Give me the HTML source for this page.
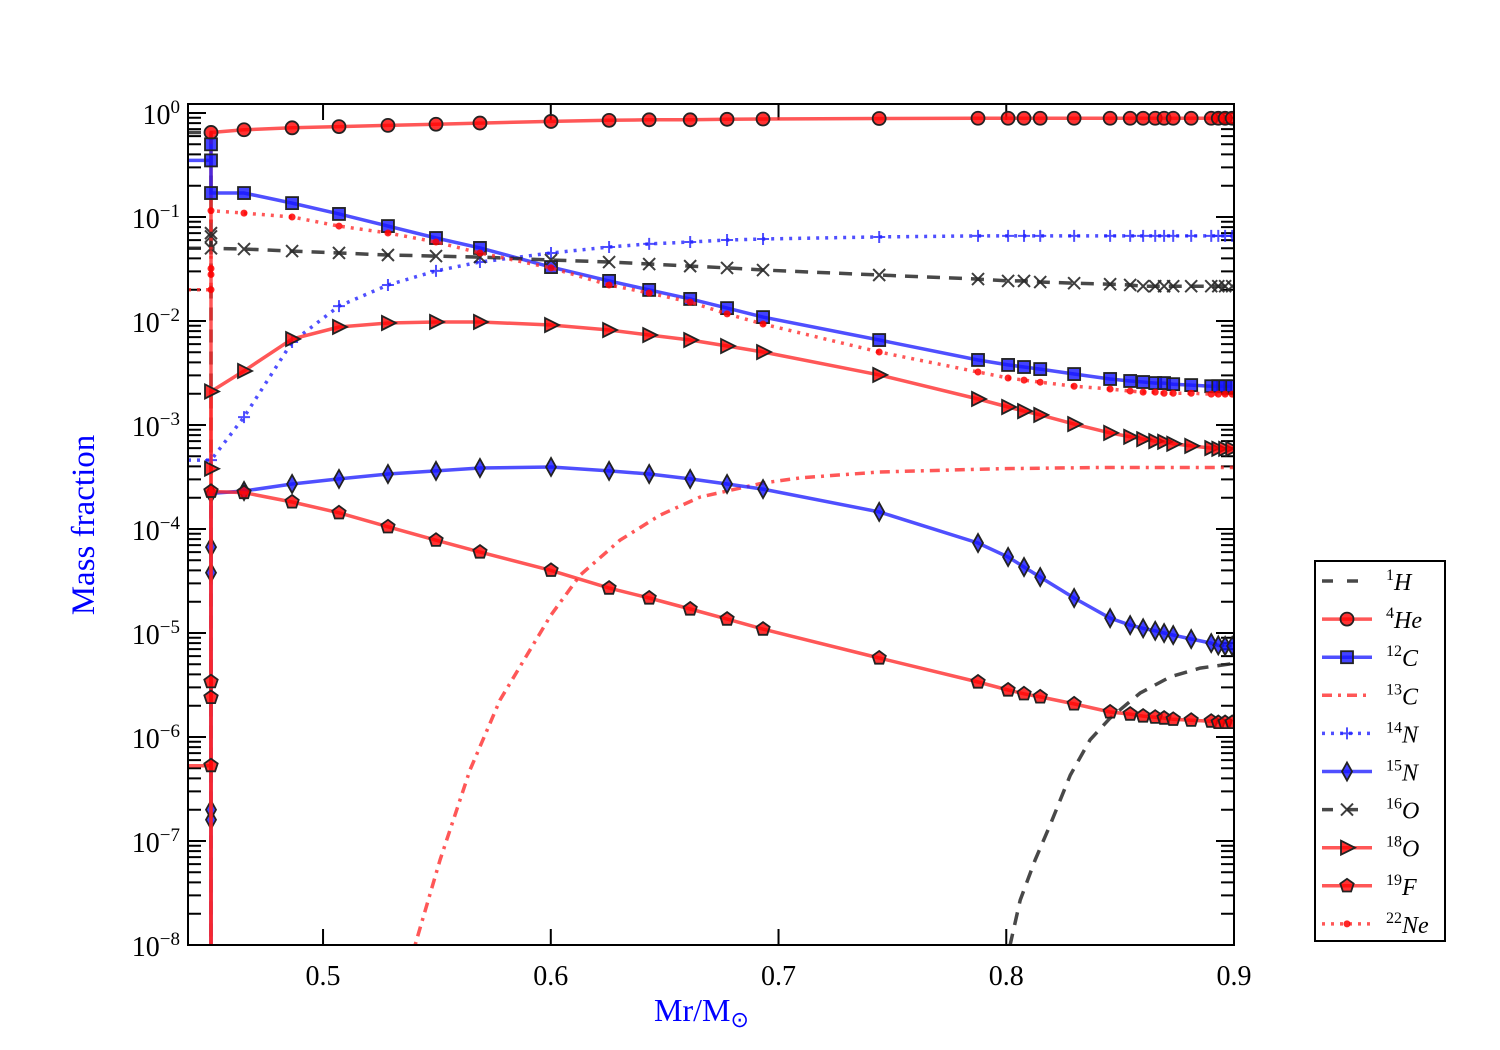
<!DOCTYPE html>
<html><head><meta charset="utf-8"><style>
html,body{margin:0;padding:0;background:#fff;width:1500px;height:1050px;overflow:hidden;}
svg{display:block;font-family:"Liberation Serif",serif;}
</style></head><body>
<svg id="chart" width="1500" height="1050" viewBox="0 0 1500 1050" xmlns="http://www.w3.org/2000/svg">
<defs><clipPath id="pc"><rect x="188" y="104" width="1046" height="841"/></clipPath></defs>
<rect x="0" y="0" width="1500" height="1050" fill="#fff"/>
<g id="ticks"></g>
<g id="series" clip-path="url(#pc)"></g>
<rect x="188" y="104" width="1046" height="841" fill="none" stroke="#000" stroke-width="2"/>
<g id="labels"></g>
<text x="94" y="525" transform="rotate(-90 94 525)" text-anchor="middle" font-size="33" fill="#0000ff">Mass fraction</text>
<text x="654" y="1021" font-size="32" fill="#0000ff">Mr/M<tspan font-size="22" dy="6">⊙</tspan></text>
<rect x="1315" y="561" width="130" height="380" fill="#fff" stroke="#000" stroke-width="2"/>
<g id="legend"></g>
</svg>
<script>
const grid = [0.4653,0.4864,0.5070,0.5285,0.5496,0.5689,0.6001,0.6256,0.6432,0.6612,0.6774,0.6932,0.7442,0.7876,0.8008,0.8078,0.8149,0.8298,0.8456,0.8544,0.8601,0.8654,0.8693,0.8733,0.8812,0.8900,0.8931,0.8961,0.8992];
const xEdge = 0.4508;
const he4 = [0.69,0.72,0.74,0.76,0.78,0.80,0.83,0.85,0.86,0.86,0.87,0.875,0.885,0.89,0.89,0.89,0.89,0.89,0.89,0.89,0.89,0.89,0.89,0.89,0.89,0.89,0.89,0.89,0.89];
const c12 = [0.170,0.136,0.107,0.0818,0.0628,0.0504,0.0330,0.0243,0.0199,0.0163,0.0133,0.0109,0.00656,0.00422,0.00378,0.00361,0.00345,0.00309,0.00277,0.00265,0.00259,0.00253,0.00253,0.00247,0.00242,0.00236,0.00236,0.00236,0.00236];
const ne22 = [0.109,0.100,0.0818,0.0702,0.0575,0.0451,0.0324,0.0222,0.0186,0.0152,0.0117,0.00935,0.00503,0.00323,0.00283,0.00270,0.00258,0.00236,0.00222,0.00212,0.00207,0.00207,0.00202,0.00202,0.00202,0.00198,0.00198,0.00198,0.00198];
const n14 = [0.00119,0.00628,0.0139,0.0222,0.0303,0.0369,0.0451,0.0515,0.0551,0.0575,0.0601,0.0615,0.0643,0.0658,0.0658,0.0658,0.0658,0.0658,0.0658,0.0658,0.0658,0.0658,0.0658,0.0658,0.0658,0.0658,0.0658,0.0658,0.0658];
const o16 = [0.0492,0.047,0.0451,0.0431,0.0421,0.0412,0.0386,0.0369,0.0353,0.0337,0.0324,0.0309,0.0277,0.0253,0.0243,0.0243,0.0237,0.0231,0.0226,0.0222,0.0216,0.0216,0.0216,0.0216,0.0216,0.0216,0.0216,0.0216,0.0216];
const o18 = [0.00331,0.00671,0.00876,0.00957,0.00979,0.00979,0.00915,0.00819,0.00733,0.00656,0.00575,0.00503,0.00303,0.00178,0.00149,0.00136,0.00125,0.00102,0.00084,0.00077,0.00073,0.00070,0.00069,0.00066,0.00063,0.00060,0.00059,0.00059,0.00059];
const n15 = [2.32e-4,2.71e-4,3.03e-4,3.38e-4,3.62e-4,3.86e-4,3.95e-4,3.62e-4,3.38e-4,3.03e-4,2.71e-4,2.42e-4,1.46e-4,7.33e-5,5.38e-5,4.31e-5,3.45e-5,2.17e-5,1.39e-5,1.19e-5,1.11e-5,1.05e-5,9.99e-6,9.55e-6,8.75e-6,8.0e-6,7.6e-6,7.5e-6,7.5e-6];
const f19 = [2.24e-4,1.82e-4,1.43e-4,1.05e-4,7.8e-5,6.0e-5,4.0e-5,2.7e-5,2.17e-5,1.7e-5,1.36e-5,1.09e-5,5.75e-6,3.38e-6,2.83e-6,2.6e-6,2.43e-6,2.08e-6,1.74e-6,1.66e-6,1.59e-6,1.55e-6,1.52e-6,1.48e-6,1.45e-6,1.42e-6,1.38e-6,1.38e-6,1.38e-6];
const c13x = [0.535,0.5404,0.5514,0.5645,0.5777,0.5909,0.6001,0.6129,0.6304,0.6480,0.6656,0.6932,0.7095,0.7442,0.7973,0.8412,0.9];
const c13y = [2e-9,1e-8,6.6e-8,4.8e-7,2.27e-6,6.9e-6,1.49e-5,3.6e-5,7.8e-5,1.36e-4,2.03e-4,2.77e-4,3.1e-4,3.53e-4,3.8e-4,3.9e-4,3.9e-4];
const h1x = [0.4407,0.4508,0.4508,0.800,0.8017,0.8061,0.8127,0.8193,0.8281,0.8368,0.8456,0.8588,0.8720,0.8851,0.9];
const h1y = [0.65,0.65,1e-12,1e-12,1e-8,2.7e-8,6.6e-8,1.43e-7,4.3e-7,9.4e-7,1.52e-6,2.65e-6,3.78e-6,4.6e-6,5.1e-6];
const xTicks = [0.5,0.6,0.7,0.8,0.9];
const xTickLabels = ["0.5","0.6","0.7","0.8","0.9"];
const yExps = [0,-1,-2,-3,-4,-5,-6,-7,-8];

const X0=188,X1=1234,Y0=104,Y1=945;
const xmin=0.4407,xmax=0.9;
function sx(v){return X0+(v-xmin)/(xmax-xmin)*(X1-X0);}
function sy(v){return 945-(Math.log10(v)+8)*104;}
function cy(y){return Math.max(Y0-10,Math.min(Y1+10,y));}
const NS="http://www.w3.org/2000/svg";
function mk(tag,attrs,parent){const e=document.createElementNS(NS,tag);for(const k in attrs)e.setAttribute(k,attrs[k]);parent.appendChild(e);return e;}
const S=document.getElementById('series'),T=document.getElementById('ticks'),L=document.getElementById('labels'),G=document.getElementById('legend');

const RED='rgba(255,40,40,0.78)',BLUE='rgba(30,30,255,0.78)',GRAY='rgba(40,40,40,0.85)';
const spec = [
 {name:'h1',label:'1',el:'H',color:GRAY,dash:'13,9',marker:null},
 {name:'he4',label:'4',el:'He',color:RED,dash:null,marker:'circle',left:1e-12,at0:[1e-12,0.65],vals:he4},
 {name:'c12',label:'12',el:'C',color:BLUE,dash:null,marker:'square',left:0.35,at0:[0.35,0.5,0.17],vals:c12},
 {name:'c13',label:'13',el:'C',color:RED,dash:'10,6,3,6',marker:null},
 {name:'n14',label:'14',el:'N',color:BLUE,dash:'3,6',marker:'plus',left:4.6e-4,at0:[4.6e-4],vals:n14},
 {name:'n15',label:'15',el:'N',color:BLUE,dash:null,marker:'diamond',left:1e-12,at0:[1e-12,1.6e-7,2e-7,3.8e-5,6.7e-5,2.2e-4],vals:n15},
 {name:'o16',label:'16',el:'O',color:GRAY,dash:'13,9',marker:'x',left:0.05,at0:[0.07,0.065,0.05],vals:o16},
 {name:'o18',label:'18',el:'O',color:RED,dash:null,marker:'tri',left:1e-12,at0:[1e-12,3.8e-4,2.1e-3],vals:o18},
 {name:'f19',label:'19',el:'F',color:RED,dash:null,marker:'pent',left:5.3e-7,at0:[1e-12,5.3e-7,2.4e-6,3.4e-6,2.3e-4],vals:f19},
 {name:'ne22',label:'22',el:'Ne',color:RED,dash:'3,6',marker:'dot',left:0.02,at0:[0.02,0.028,0.032,0.115],vals:ne22}
];
function fillOf(c){return c===BLUE?'rgba(20,20,255,0.8)':'rgba(255,0,0,0.8)';}
function drawMarker(type,x,y,color,parent){
  const f=fillOf(color),st='#222',sw=1.8;let e;
  if(type==='circle'){e=mk('circle',{cx:x,cy:y,r:6.5,fill:f,stroke:st,'stroke-width':sw},parent);}
  else if(type==='square'){e=mk('rect',{x:x-6,y:y-6,width:12,height:12,fill:f,stroke:st,'stroke-width':sw},parent);}
  else if(type==='diamond'){e=mk('path',{d:`M${x},${y-9}L${x+5},${y}L${x},${y+9}L${x-5},${y}Z`,fill:f,stroke:st,'stroke-width':sw},parent);}
  else if(type==='tri'){e=mk('path',{d:`M${x-6},${y-7}L${x+8},${y}L${x-6},${y+7}Z`,fill:f,stroke:st,'stroke-width':sw},parent);}
  else if(type==='pent'){let d='';for(let i=0;i<5;i++){const a=-Math.PI/2+i*2*Math.PI/5;d+=(i?'L':'M')+(x+7*Math.cos(a)).toFixed(1)+','+(y+7*Math.sin(a)).toFixed(1);}e=mk('path',{d:d+'Z',fill:f,stroke:st,'stroke-width':sw},parent);}
  else if(type==='x'){e=mk('path',{d:`M${x-6},${y-6}L${x+6},${y+6}M${x-6},${y+6}L${x+6},${y-6}`,stroke:'rgba(40,40,40,0.9)','stroke-width':2,fill:'none'},parent);}
  else if(type==='plus'){e=mk('path',{d:`M${x-6},${y}L${x+6},${y}M${x},${y-6}L${x},${y+6}`,stroke:BLUE,'stroke-width':2,fill:'none'},parent);}
  else if(type==='dot'){e=mk('circle',{cx:x,cy:y,r:3.5,fill:'rgba(255,0,0,0.85)'},parent);}
  return e;
}
function pathD(pts){return pts.map((p,i)=>(i?'L':'M')+p[0].toFixed(1)+','+cy(p[1]).toFixed(1)).join('');}

spec.forEach(s=>{
  const g=mk('g',{},S);
  
  
  let pts=[];
  if(s.name==='h1'){pts=h1x.map((x,i)=>[sx(x),sy(h1y[i])]);}
  else if(s.name==='c13'){pts=c13x.map((x,i)=>[sx(x),sy(c13y[i])]);}
  else{
    pts.push([sx(xmin),sy(s.left)]);pts.push([sx(xEdge),sy(s.left)]);
    s.at0.forEach(v=>pts.push([sx(xEdge),sy(v)]));
    grid.forEach((x,i)=>pts.push([sx(x),sy(s.vals[i])]));
  }
  const a={d:pathD(pts),fill:'none',stroke:s.color,'stroke-width':3.5};
  if(s.dash)a['stroke-dasharray']=s.dash;
  const p=mk('path',a,g);
  
  
  if(s.marker){
    s.at0.forEach(v=>{const yy=sy(v);if(yy<=Y1+10){const m=drawMarker(s.marker,sx(xEdge),yy,s.color,g);
      
      }});
    grid.forEach((x,i)=>{const yy=sy(s.vals[i]);if(yy<=Y1+10){const m=drawMarker(s.marker,sx(x),yy,s.color,g);
      
      }});
  }
});

// ticks
let td='';
yExps.forEach(e=>{const y=sy(Math.pow(10,e));td+=`M${X0},${y}h18M${X1},${y}h-18`;
  for(let k=2;k<=9;k++){const yy=sy(k*Math.pow(10,e));if(yy>=Y0&&yy<=Y1)td+=`M${X0},${yy}h13M${X1},${yy}h-13`;}});
xTicks.forEach(v=>{const x=sx(v);td+=`M${x},${Y1}v-16M${x},${Y0}v16`;});
mk('path',{d:td,stroke:'#000','stroke-width':2,fill:'none'},T);
xTicks.forEach((v,i)=>{const t=mk('text',{x:sx(v),y:985,'text-anchor':'middle','font-size':28},L);t.textContent=xTickLabels[i];
  
  });
yExps.forEach(e=>{const t=mk('text',{x:180,y:sy(Math.pow(10,e))+11,'text-anchor':'end','font-size':28},L);
  
  
  t.appendChild(document.createTextNode('10'));const sp=mk('tspan',{dy:-11,'font-size':19},t);sp.textContent=(e<0?'−':'')+Math.abs(e);});

// legend
spec.forEach((s,i)=>{
  const y=581+i*38.1;
  const g=mk('g',{},G);
  
  
  const a={d:`M1322,${y}H1372`,stroke:s.color,'stroke-width':3.5,fill:'none'};
  if(s.dash)a['stroke-dasharray']=s.dash==='13,9'?'11,14':s.dash;
  mk('path',a,g);
  if(s.marker)drawMarker(s.marker,1347,y,s.color,g);
  const t=mk('text',{x:1386,y:y+9,'font-size':24},g);
  const sp=mk('tspan',{dy:-10,'font-size':16},t);sp.textContent=s.label;
  const sp2=mk('tspan',{dy:10,'font-style':'italic'},t);sp2.textContent=s.el;
});
</script>
</body></html>
